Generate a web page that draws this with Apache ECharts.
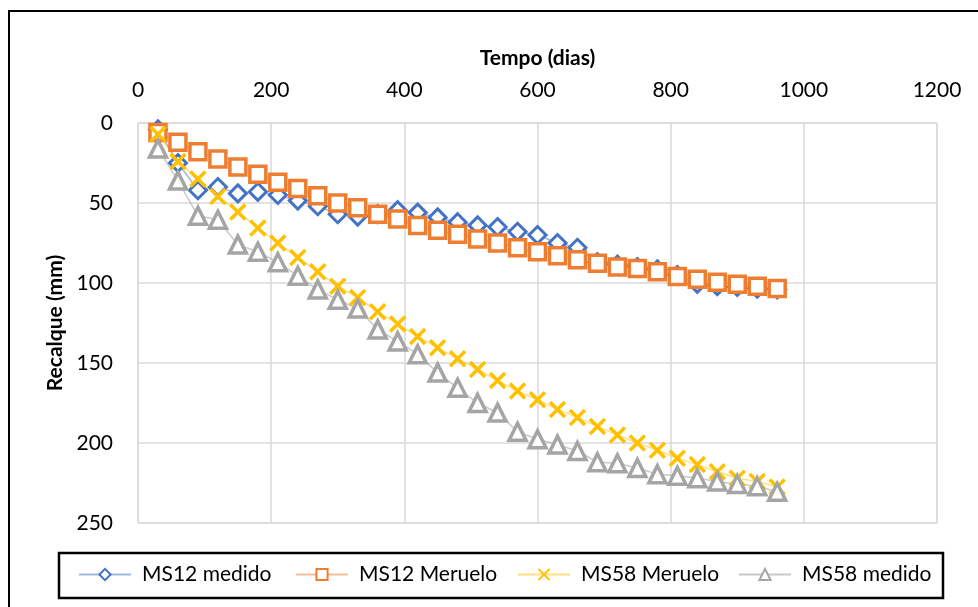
<!DOCTYPE html>
<html>
<head>
<meta charset="utf-8">
<script src="https://cdn.jsdelivr.net/npm/echarts@6/dist/echarts.min.js"></script>
<style>
  html, body { margin: 0; padding: 0; background: #fff; }
  #chart { width: 978px; height: 607px; }
</style>
</head>
<body>
<div id="chart"></div>
<script>
// tempo (dias)
const days = [30, 60, 90, 120, 150, 180, 210, 240, 270, 300, 330, 360, 390, 420, 450, 480,
  510, 540, 570, 600, 630, 660, 690, 720, 750, 780, 810, 840, 870, 900, 930, 960]
// recalque (mm)
const ms12Medido = [4, 25, 42, 40, 44, 43, 45, 48.5, 52, 57, 58.5, 57, 54.5, 56, 59, 62,
  64, 65, 68, 70, 75, 78, 87, 88.5, 90, 91.5, 95, 100.5, 102, 102.5, 103.5, 104]
const ms12Meruelo = [6, 12, 18, 22.5, 27.5, 32, 37, 41, 45.5, 50, 53, 57, 60, 64, 67, 69.5,
  72.5, 75, 78, 80.5, 83, 85.5, 87.6, 90, 91, 93, 96, 97.7, 99.5, 100.8, 102, 103.5]
const ms58Meruelo = [7, 24, 35, 46, 55.6, 65.6, 75, 84, 93, 102, 109, 118, 125.6, 133.5, 140.5, 147.3,
  154, 161, 167.5, 173, 179, 184, 189.7, 195, 200, 204.5, 209.5, 213.5, 218, 222, 224, 227.5]
const ms58Medido = [16, 36, 58, 60.5, 76, 80.5, 87, 95.5, 104, 110.5, 116, 129, 136.5, 144.5, 156, 165.5,
  175, 181, 193, 197.7, 201, 205, 212, 212.7, 215.6, 219.5, 220.5, 222, 224, 225.6, 227, 230.5]

const seriesNames = ['MS12 medido', 'MS12 Meruelo', 'MS58 Meruelo', 'MS58 medido']
const xTicks = { min: 0, max: 1200, interval: 200 }
const yTicks = { min: 0, max: 250, interval: 50 }

const font = 'Lato, "Open Sans", sans-serif'
const pairs = (ys) => ys.map((v, i) => [days[i], v])

const chart = echarts.init(document.getElementById('chart'))

const legendLefts = [78, 295, 517, 738]
const legends = seriesNames.map((name, i) => ({
  data: [name],
  left: legendLefts[i],
  top: 564,
  padding: 0,
  itemWidth: 52,
  itemHeight: 14,
  selectedMode: false,
  textStyle: { fontFamily: font, fontSize: 21, color: '#000', padding: [0, 0, 0, 6] }
}))

const option = {
  backgroundColor: '#fff',
  animation: false,
  graphic: [
    {
      type: 'polyline',
      shape: { points: [[9, 607], [9, 11], [978, 11]] },
      style: { stroke: '#000', lineWidth: 2, fill: null }
    },
    {
      type: 'rect',
      shape: { x: 59, y: 553, width: 884, height: 45 },
      style: { stroke: '#000', lineWidth: 2.5, fill: null }
    }
  ],
  legend: legends,
  grid: { left: 138, top: 123, width: 799, height: 400, show: true, borderColor: '#d9d9d9', borderWidth: 1 },
  xAxis: {
    type: 'value',
    position: 'top',
    min: xTicks.min, max: xTicks.max, interval: xTicks.interval,
    name: 'Tempo (dias)',
    nameLocation: 'middle',
    nameGap: 54,
    nameTextStyle: { fontFamily: font, fontSize: 21, fontWeight: 'bold', color: '#000' },
    axisLine: { show: false },
    axisTick: { show: false },
    axisLabel: { fontFamily: font, fontSize: 21, color: '#000', margin: 22, formatter: (v) => String(v) },
    splitLine: { lineStyle: { color: '#d9d9d9', width: 1.5 } }
  },
  yAxis: {
    type: 'value',
    inverse: true,
    min: yTicks.min, max: yTicks.max, interval: yTicks.interval,
    name: 'Recalque (mm)',
    nameLocation: 'middle',
    nameRotate: 90,
    nameGap: 68,
    nameTextStyle: { fontFamily: font, fontSize: 21, fontWeight: 'bold', color: '#000' },
    axisLine: { show: false },
    axisTick: { show: false },
    axisLabel: { fontFamily: font, fontSize: 21, color: '#000', margin: 25 },
    splitLine: { lineStyle: { color: '#d9d9d9', width: 1.5 } }
  },
  series: [
    {
      name: seriesNames[0], type: 'line', data: pairs(ms12Medido),
      symbol: 'diamond', symbolSize: 17,
      itemStyle: { color: '#fff', borderColor: '#4472C4', borderWidth: 3 },
      lineStyle: { color: '#4472C4', width: 1.5, opacity: 0.5 }
    },
    {
      name: seriesNames[1], type: 'line', data: pairs(ms12Meruelo),
      symbol: 'rect', symbolSize: 16,
      itemStyle: { color: '#fff', borderColor: '#ED7D31', borderWidth: 3.5 },
      lineStyle: { color: '#ED7D31', width: 1.5, opacity: 0.5 }
    },
    {
      name: seriesNames[2], type: 'line', data: pairs(ms58Meruelo),
      symbol: 'path://M0,0L10,10M10,0L0,10', symbolSize: 15,
      itemStyle: { color: '#FFC000', borderColor: '#FFC000', borderWidth: 3.5 },
      lineStyle: { color: '#FFC000', width: 1.5, opacity: 0.5 }
    },
    {
      name: seriesNames[3], type: 'line', data: pairs(ms58Medido),
      symbol: 'triangle', symbolSize: 17,
      itemStyle: { color: '#fff', borderColor: '#A5A5A5', borderWidth: 3.5 },
      lineStyle: { color: '#A5A5A5', width: 1.5, opacity: 0.6 }
    }
  ]
}

chart.setOption(option)
</script>
</body>
</html>
